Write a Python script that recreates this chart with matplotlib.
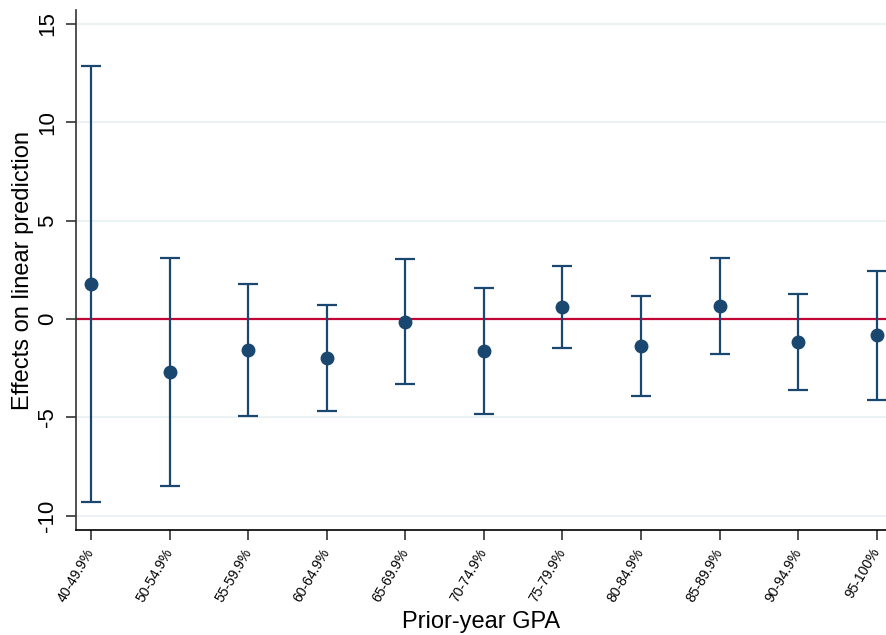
import numpy as np
import matplotlib.pyplot as plt

plt.rcParams['font.family'] = ['Liberation Sans', 'DejaVu Sans']

# categories and estimates
groups = ['40-49.9%', '50-54.9%', '55-59.9%', '60-64.9%', '65-69.9%', '70-74.9%',
          '75-79.9%', '80-84.9%', '85-89.9%', '90-94.9%', '95-100%']
estimate = [1.79, -2.69, -1.58, -1.97, -0.14, -1.61, 0.61, -1.39, 0.65, -1.18, -0.83]
ci_upper = [12.86, 3.12, 1.76, 0.71, 3.05, 1.59, 2.71, 1.17, 3.10, 1.26, 2.44]
ci_lower = [-9.29, -8.49, -4.92, -4.66, -3.32, -4.83, -1.46, -3.93, -1.79, -3.64, -4.12]

navy = '#1a476f'
x = np.arange(len(groups))
est = np.array(estimate)
yerr = [est - np.array(ci_lower), np.array(ci_upper) - est]

fig = plt.figure(figsize=(8.87, 6.35), dpi=100)
ax = fig.add_axes([0.0857, 0.1654, 0.9143, 0.8188])

# gridlines
for yv in [-10, -5, 5, 10, 15]:
    ax.axhline(yv, color='#eaf2f3', lw=1.5, zorder=0)
ax.axhline(0, color='#c10534', lw=1.6, zorder=1)

ax.errorbar(x, est, yerr=yerr, fmt='o', color=navy, ms=9, elinewidth=1.6,
            capsize=7, capthick=1.6, zorder=3)

ax.set_xlim(-0.19, 10.13)
ax.set_ylim(-10.73, 15.7)
ax.set_xticks(x)
ax.set_xticklabels(groups, rotation=60, ha='right', va='center',
                   rotation_mode='anchor', fontsize=10)
ax.set_yticks([-10, -5, 0, 5, 10, 15])
ax.set_yticklabels(['-10', '-5', '0', '5', '10', '15'], rotation=90, va='center', fontsize=16)

for s in ['top', 'right']:
    ax.spines[s].set_visible(False)
ax.spines['left'].set_color('#333333')
ax.spines['left'].set_linewidth(1.2)
ax.spines['bottom'].set_linewidth(1.2)
ax.tick_params(axis='both', length=7, width=1.2, color='#333333')
ax.tick_params(axis='y', pad=6)
ax.tick_params(axis='x', pad=7)

ax.set_xlabel('Prior-year GPA', fontsize=17, labelpad=5)
ax.set_ylabel('Effects on linear prediction', fontsize=17, labelpad=2)

fig.savefig('out.png', dpi=100)
